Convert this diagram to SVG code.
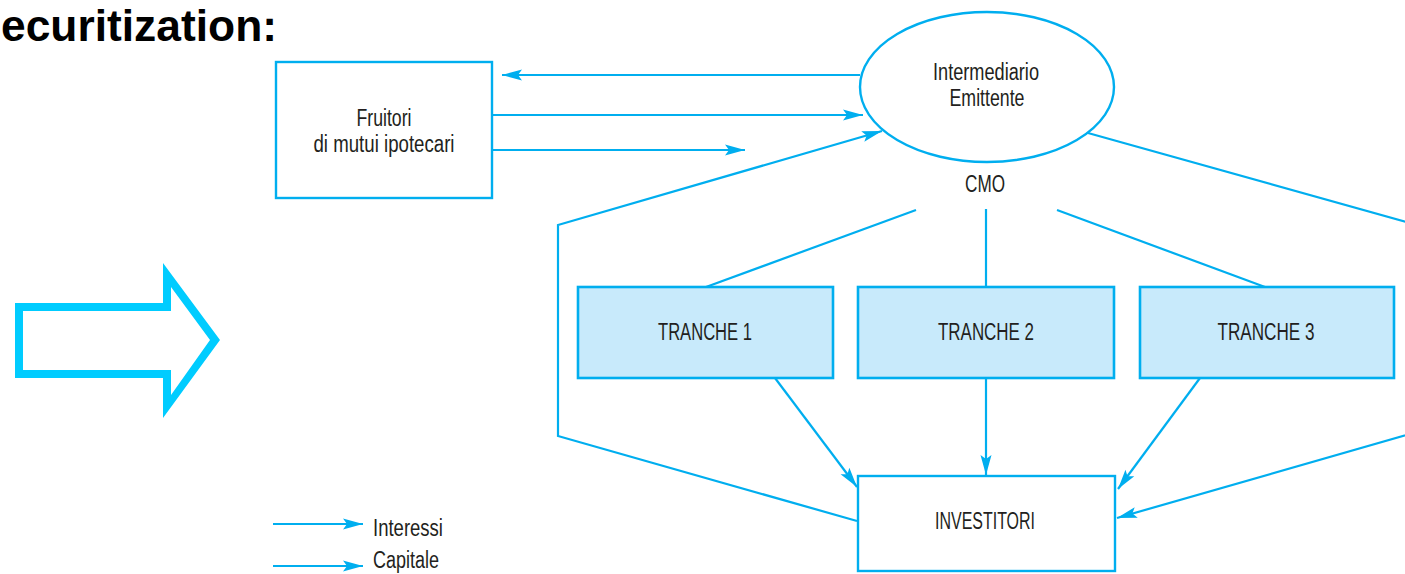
<svg xmlns="http://www.w3.org/2000/svg" width="1405" height="574" viewBox="0 0 1405 574">
<style>
.bx{fill:#fff;stroke:#00AEEF;stroke-width:2.4}
.tr{fill:#C8EAFB;stroke:#00AEEF;stroke-width:2.6}
.ln{fill:none;stroke:#00AEEF;stroke-width:2.2;stroke-linejoin:miter}
.lb{font-family:"Liberation Sans",Arial,sans-serif;font-size:23px;fill:#231F20;text-anchor:middle}
.lg{font-family:"Liberation Sans",Arial,sans-serif;font-size:23px;fill:#231F20}
.ti{font-family:"Liberation Sans",Arial,sans-serif;font-size:45px;font-weight:bold;fill:#000}
</style>
<defs>
<marker id="ah" markerUnits="userSpaceOnUse" markerWidth="22" markerHeight="12" refX="20" refY="5.5" orient="auto" overflow="visible">
<path d="M0,0 L20,5.5 L0,11 L4,5.5 z" fill="#00AEEF"/>
</marker>
</defs>
<rect width="1405" height="574" fill="#fff"/>
<text class="ti" x="1" y="41" textLength="276" lengthAdjust="spacingAndGlyphs">ecuritization:</text>
<g id="big-arrow">
<path d="M15,303 L163,303 L163,263 L220,340 L163,418 L163,378 L15,378 Z M23,311 L23,370 L171,370 L171,395 L210,340 L171,287 L171,311 Z" fill="#00CCFF" fill-rule="evenodd"/>
</g>
<g id="connectors">
<path class="ln" d="M860,75 L502,75" marker-end="url(#ah)"/>
<path class="ln" d="M492,115 L863,115" marker-end="url(#ah)"/>
<path class="ln" d="M492,150 L745,150" marker-end="url(#ah)"/>
<path class="ln" d="M857,521 L558,436 L558,225 L882,131" marker-end="url(#ah)"/>
<path class="ln" d="M1088,133 L1417,225 L1417,432 L1117,518" marker-end="url(#ah)"/>
<path class="ln" d="M986,209 L986,287"/>
<path class="ln" d="M916,210 L706,287"/>
<path class="ln" d="M1057,210 L1265,287"/>
<path class="ln" d="M775,378 L857,487" marker-end="url(#ah)"/>
<path class="ln" d="M986,378 L986,475" marker-end="url(#ah)"/>
<path class="ln" d="M1200,378 L1118,489" marker-end="url(#ah)"/>
</g>
<g id="fruitori">
<rect class="bx" x="276" y="62" width="216" height="136"/>
<text class="lb" x="384" y="126" textLength="55" lengthAdjust="spacingAndGlyphs">Fruitori</text>
<text class="lb" x="384" y="152" textLength="141" lengthAdjust="spacingAndGlyphs">di mutui ipotecari</text>
</g>
<g id="intermediario">
<ellipse class="bx" cx="987" cy="87" rx="127" ry="75"/>
<text class="lb" x="986" y="80" textLength="106" lengthAdjust="spacingAndGlyphs">Intermediario</text>
<text class="lb" x="987" y="106" textLength="75" lengthAdjust="spacingAndGlyphs">Emittente</text>
</g>
<g id="cmo">
<text class="lb" x="985" y="192" textLength="40" lengthAdjust="spacingAndGlyphs">CMO</text>
</g>
<g id="tranche1">
<rect class="tr" x="578" y="287" width="255" height="91"/>
<text class="lb" x="705" y="340" textLength="94" lengthAdjust="spacingAndGlyphs">TRANCHE 1</text>
</g>
<g id="tranche2">
<rect class="tr" x="858" y="287" width="256" height="91"/>
<text class="lb" x="986" y="340" textLength="96" lengthAdjust="spacingAndGlyphs">TRANCHE 2</text>
</g>
<g id="tranche3">
<rect class="tr" x="1140" y="287" width="254" height="91"/>
<text class="lb" x="1266" y="340" textLength="97" lengthAdjust="spacingAndGlyphs">TRANCHE 3</text>
</g>
<g id="investitori">
<rect class="bx" x="858" y="476" width="257" height="95"/>
<text class="lb" x="985" y="529" textLength="100" lengthAdjust="spacingAndGlyphs">INVESTITORI</text>
</g>
<g id="legend">
<path class="ln" d="M273,524 L363,524" marker-end="url(#ah)"/>
<path class="ln" d="M273,566 L363,566" marker-end="url(#ah)"/>
<text class="lg" x="373" y="536" textLength="70" lengthAdjust="spacingAndGlyphs">Interessi</text>
<text class="lg" font-size="22" x="373" y="568" textLength="66" lengthAdjust="spacingAndGlyphs">Capitale</text>
</g>
</svg>
